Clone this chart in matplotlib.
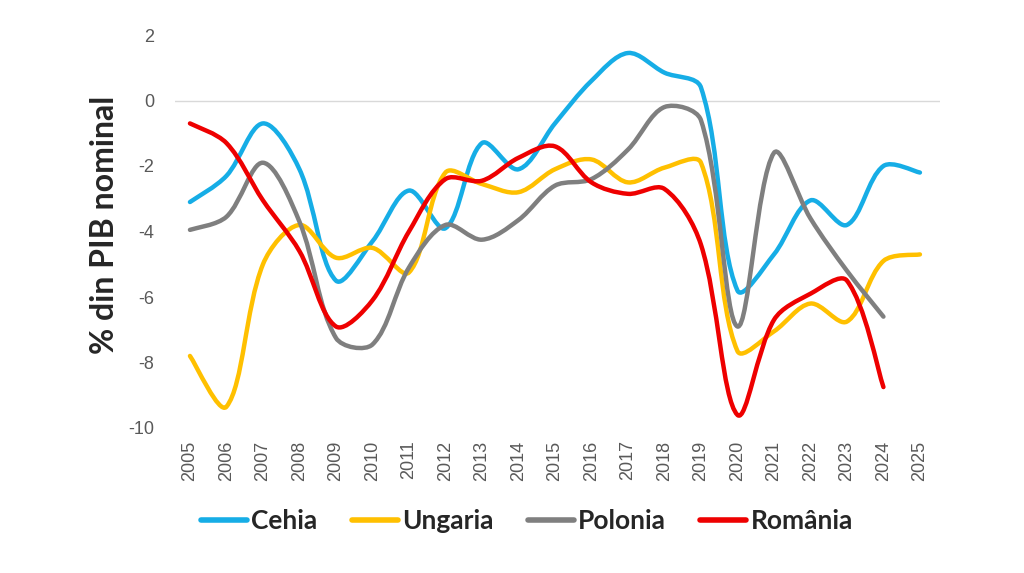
import numpy as np
import matplotlib
matplotlib.use("Agg")
import matplotlib.pyplot as plt
from matplotlib.path import Path
from matplotlib.patches import PathPatch
from matplotlib.lines import Line2D

years = list(range(2005, 2026))

cehia = [-3.1, -2.3, -0.7, -2.1, -5.5, -4.3, -2.75, -3.9, -1.3, -2.1, -0.7,
         0.6, 1.45, 0.85, 0.4, -5.8, -4.7, -3.05, -3.8, -2.0, -2.2]
ungaria = [-7.8, -9.35, -5.0, -3.8, -4.8, -4.5, -5.25, -2.2, -2.55, -2.8, -2.1,
           -1.8, -2.5, -2.05, -1.9, -7.65, -7.05, -6.2, -6.75, -4.9, -4.7]
polonia = [-3.95, -3.55, -1.9, -3.7, -7.25, -7.45, -5.1, -3.8, -4.25, -3.65, -2.6,
           -2.4, -1.5, -0.2, -0.6, -6.9, -1.6, -3.6, -5.2, -6.6]
romania = [-0.7, -1.3, -3.05, -4.6, -6.9, -6.1, -4.0, -2.4, -2.45, -1.75, -1.4,
           -2.5, -2.85, -2.7, -4.4, -9.6, -6.7, -5.9, -5.5, -8.75]

names = ["Cehia", "Ungaria", "Polonia", "România"]
colors = ["#16ADE6", "#FFC000", "#7F7F7F", "#EE0000"]
series = [cehia, ungaria, polonia, romania]

yticks = [2, 0, -2, -4, -6, -8, -10]

# screen scale of one x unit vs one y unit (px), so smoothing is done in screen space
SX, SY = 36.5, 32.8


def smooth_path(xs, ys):
    # smoothed line: cubic Bezier, tangent = next - prev, split by relative segment length
    p = np.column_stack([np.asarray(xs, float) * SX, np.asarray(ys, float) * SY])
    n = len(p)
    seg = np.hypot(*np.diff(p, axis=0).T)

    def handle(i, side):
        a = p[max(i - 1, 0)]
        b = p[min(i + 1, n - 1)]
        if i == 0 or i == n - 1:
            return (b - a) / 6
        l_prev, l_next = seg[i - 1], seg[i]
        frac = (l_next if side > 0 else l_prev) / (l_prev + l_next)
        return (b - a) * frac / 3

    verts = [p[0]]
    codes = [Path.MOVETO]
    for i in range(n - 1):
        c1 = p[i] + handle(i, +1)
        c2 = p[i + 1] - handle(i + 1, -1)
        verts += [c1, c2, p[i + 1]]
        codes += [Path.CURVE4] * 3
    verts = np.array(verts) / [SX, SY]
    return Path(verts, codes)


fig = plt.figure(figsize=(10.24, 5.73), dpi=100)
ax = fig.add_axes([175 / 1024, 1 - 428 / 573, 765 / 1024, 393 / 573])

for name, vals, c in zip(names, series, colors):
    path = smooth_path(years[:len(vals)], vals)
    ax.add_patch(PathPatch(path, facecolor="none", edgecolor=c, lw=3.2,
                           capstyle="round", joinstyle="round", zorder=3))

ax.axhline(0, color="#D9D9D9", lw=1, zorder=1)
ax.set_xlim(2004.59, 2025.55)
ax.set_ylim(-10, 2)
for s in ax.spines.values():
    s.set_visible(False)

ax.set_yticks(yticks)
ax.set_yticklabels([str(v) for v in yticks], fontsize=13, color="#595959",
                   family="Liberation Sans")
ax.set_xticks(years)
ax.set_xticklabels([str(y) for y in years], rotation=90, fontsize=13,
                   color="#595959", family="Liberation Sans")
ax.tick_params(axis="y", length=0, pad=15)
ax.tick_params(axis="x", length=0, pad=9)

fig.text(105 / 1024, 1 - 225 / 573, "% din PIB nominal", rotation=90,
         ha="center", va="center", fontsize=23, fontweight="bold",
         color="#262626", family="Lato")

handles = [Line2D([], [], color=c, lw=4, solid_capstyle="round") for c in colors]
leg = fig.legend(handles, names, loc="center", bbox_to_anchor=(527 / 1024, 1 - 521 / 573),
                 ncol=4, frameon=False, handlelength=1.75, handletextpad=0.15,
                 columnspacing=1.3,
                 prop={"family": "Lato", "weight": "bold", "size": 19})
for t in leg.get_texts():
    t.set_color("#262626")

fig.savefig("out.png", dpi=100, facecolor="white")
